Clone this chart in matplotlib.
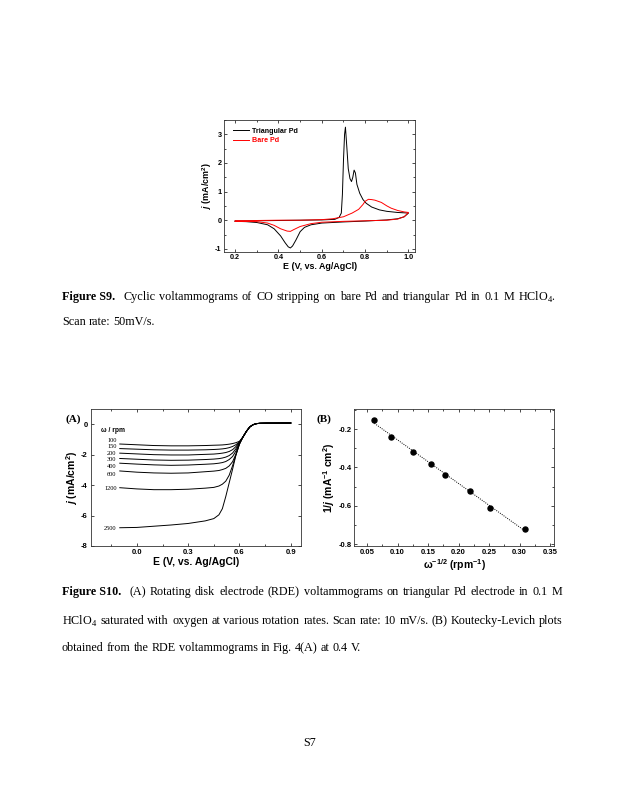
import matplotlib
matplotlib.use("Agg")
import matplotlib.pyplot as plt
import numpy as np
from matplotlib.ticker import MultipleLocator

plt.rcParams['font.family'] = ['Liberation Sans', 'DejaVu Sans']
plt.rcParams['font.weight'] = 'bold'
plt.rcParams['axes.labelweight'] = 'bold'
plt.rcParams['axes.unicode_minus'] = False
plt.rcParams['mathtext.fontset'] = 'custom'
plt.rcParams['mathtext.rm'] = 'Liberation Sans:bold'
plt.rcParams['mathtext.bf'] = 'Liberation Sans:bold'
plt.rcParams['mathtext.it'] = 'Liberation Sans:italic:bold'

# ---- Figure S9 data: CO stripping CVs ----
tri_fwd_E = [0.20, 0.30, 0.40, 0.50, 0.60, 0.66, 0.68, 0.69, 0.695, 0.700, 0.705, 0.709,
             0.715, 0.722, 0.730, 0.737, 0.743, 0.749, 0.755, 0.762, 0.775, 0.79, 0.805,
             0.83, 0.866, 0.90, 0.95, 1.00]
tri_fwd_j = [-0.03, -0.02, -0.01, 0.0, 0.01, 0.03, 0.10, 0.25, 0.9, 2.1, 3.0, 3.25,
             2.6, 1.8, 1.45, 1.35, 1.5, 1.75, 1.65, 1.25, 0.94, 0.72, 0.59,
             0.46, 0.36, 0.31, 0.27, 0.25]
tri_rev_E = [1.00, 0.98, 0.95, 0.90, 0.80, 0.70, 0.60, 0.55, 0.52, 0.50, 0.48, 0.465,
             0.455, 0.445, 0.43, 0.41, 0.38, 0.35, 0.30, 0.25, 0.20]
tri_rev_j = [0.25, 0.12, 0.05, 0.01, -0.03, -0.06, -0.10, -0.16, -0.25, -0.40, -0.70, -0.90,
             -0.97, -0.93, -0.78, -0.55, -0.30, -0.16, -0.08, -0.05, -0.04]
bare_fwd_E = [0.20, 0.30, 0.40, 0.50, 0.60, 0.65, 0.70, 0.74, 0.77, 0.79, 0.80, 0.815,
              0.83, 0.845, 0.86, 0.875, 0.90, 0.92, 0.95, 0.98, 1.00]
bare_fwd_j = [-0.03, -0.01, 0.0, 0.0, 0.02, 0.05, 0.12, 0.25, 0.38, 0.55, 0.66, 0.73,
              0.72, 0.70, 0.66, 0.62, 0.50, 0.42, 0.34, 0.29, 0.27]
bare_rev_E = [1.00, 0.98, 0.95, 0.90, 0.80, 0.70, 0.60, 0.55, 0.50, 0.47, 0.455, 0.44,
              0.41, 0.38, 0.35, 0.30, 0.25, 0.20]
bare_rev_j = [0.27, 0.12, 0.04, 0.0, -0.02, -0.04, -0.07, -0.12, -0.22, -0.33, -0.39, -0.38,
              -0.30, -0.18, -0.10, -0.05, -0.04, -0.03]

# ---- Figure S10 (A) data: RDE curves ----
rde_E = [-0.10, 0.00, 0.10, 0.20, 0.30, 0.40, 0.45, 0.48, 0.50, 0.52, 0.54, 0.56, 0.58, 0.60,
         0.62, 0.64, 0.66, 0.68, 0.70, 0.72, 0.76, 0.80, 0.90]
rde_tail = [-0.85, -0.48, -0.18, -0.03, 0.04, 0.06, 0.07, 0.07, 0.08]
rpm = [100, 150, 200, 300, 400, 600, 1200, 2500]
rde_j = {
    100: [-1.30, -1.35, -1.40, -1.42, -1.42, -1.40, -1.38, -1.37, -1.36, -1.34, -1.31, -1.27, -1.21, -1.12],
    150: [-1.60, -1.64, -1.68, -1.70, -1.70, -1.68, -1.66, -1.64, -1.62, -1.59, -1.54, -1.46, -1.34, -1.16],
    200: [-1.90, -1.95, -2.00, -2.02, -2.02, -1.98, -1.96, -1.93, -1.90, -1.86, -1.79, -1.67, -1.46, -1.19],
    300: [-2.25, -2.30, -2.35, -2.37, -2.36, -2.32, -2.29, -2.26, -2.22, -2.16, -2.06, -1.89, -1.60, -1.22],
    400: [-2.56, -2.62, -2.67, -2.70, -2.68, -2.63, -2.60, -2.56, -2.52, -2.45, -2.32, -2.12, -1.75, -1.25],
    600: [-3.07, -3.15, -3.20, -3.22, -3.20, -3.12, -3.08, -3.04, -2.98, -2.90, -2.74, -2.46, -1.95, -1.28],
    1200: [-4.17, -4.25, -4.30, -4.30, -4.27, -4.20, -4.15, -4.06, -3.94, -3.74, -3.35, -2.72, -2.00, -1.32],
    2500: [-6.80, -6.78, -6.70, -6.62, -6.52, -6.35, -6.20, -5.95, -5.55, -4.75, -3.85, -2.95, -2.00, -1.30],
}
rpm_label_j = [-1.09, -1.44, -1.92, -2.34, -2.77, -3.33, -4.24, -6.82]

# ---- Figure S10 (B) data: Koutecky-Levich ----
kl_x = [0.062, 0.089, 0.126, 0.155, 0.178, 0.219, 0.252, 0.309]
kl_y = [-0.155, -0.240, -0.319, -0.384, -0.438, -0.522, -0.612, -0.722]

W, H = 619, 800
fig = plt.figure(figsize=(6.19, 8.0), dpi=100)


def box(x0, y0, x1, y1):
    return [x0 / W, 1 - y1 / H, (x1 - x0) / W, (y1 - y0) / H]


def style(ax, size):
    ax.tick_params(which='both', direction='in', top=True, right=True,
                   width=0.5, labelsize=size, pad=2)
    ax.tick_params(which='major', length=2.0)
    ax.tick_params(which='minor', length=1.2)
    for s in ax.spines.values():
        s.set_linewidth(0.6)
        s.set_color('#333333')


# top plot
ax1 = fig.add_axes(box(224.3, 120, 415, 251.7))
ax1.plot(tri_fwd_E + tri_rev_E, tri_fwd_j + tri_rev_j, color='black', lw=0.7, label='Triangular Pd')
ax1.plot(bare_fwd_E + bare_rev_E, bare_fwd_j + bare_rev_j, color='red', lw=0.7, label='Bare Pd')
ax1.set_xlim(0.15, 1.03)
ax1.set_ylim(-1.1, 3.5)
ax1.set_xticks([0.2, 0.4, 0.6, 0.8, 1.0])
ax1.set_yticks([-1, 0, 1, 2, 3])
ax1.xaxis.set_minor_locator(MultipleLocator(0.1))
ax1.yaxis.set_minor_locator(MultipleLocator(0.5))
style(ax1, 5.2)
ax1.set_xlabel('E (V, vs. Ag/AgCl)', fontsize=6.4, labelpad=0.5)
ax1.set_ylabel('$\\it{j}$ (mA/cm$^{2}$)', fontsize=6.4, labelpad=1)
leg = ax1.legend(loc='upper left', bbox_to_anchor=(0.01, 0.99), frameon=False,
                 fontsize=5.1, handlelength=2.3, handletextpad=0.4, labelspacing=0.35,
                 labelcolor='linecolor')

# plot A
axA = fig.add_axes(box(90.7, 409, 301, 546))
for r in rpm:
    axA.plot(rde_E, rde_j[r] + rde_tail, color='black', lw=0.7)
    axA.text(-0.119, rpm_label_j[rpm.index(r)], str(r), ha='right', va='center',
             fontsize=4.6, family='Liberation Serif', weight='normal')
axA.text(-0.21, -0.38, 'ω / rpm', ha='left', va='center', fontsize=4.8)
axA.set_xlim(-0.27, 0.96)
axA.set_ylim(-8, 1)
axA.set_xticks([0.0, 0.3, 0.6, 0.9])
axA.set_yticks([-8, -6, -4, -2, 0])
axA.xaxis.set_minor_locator(MultipleLocator(0.15))
style(axA, 5.5)
axA.set_xlabel('E (V, vs. Ag/AgCl)', fontsize=7.5, labelpad=1)
axA.set_ylabel('$\\it{j}$ (mA/cm$^{2}$)', fontsize=7.5, labelpad=1)
fig.text(66 / W, 1 - 419 / H, '(A)', fontsize=8, family='Liberation Serif',
         weight='bold', va='center')

# plot B
axB = fig.add_axes(box(354.3, 409, 554.3, 546))
fit = np.polyfit(kl_x, kl_y, 1)
xf = np.array([kl_x[0], kl_x[-1]])
axB.plot(xf, np.polyval(fit, xf), color='black', lw=0.7, ls=(0, (1, 1.3)))
axB.plot(kl_x, kl_y, 'o', color='black', ms=3.6)
axB.set_xlim(0.029, 0.357)
axB.set_ylim(-0.81, -0.095)
axB.set_xticks([0.05, 0.10, 0.15, 0.20, 0.25, 0.30, 0.35])
axB.set_yticks([-0.8, -0.6, -0.4, -0.2])
axB.xaxis.set_minor_locator(MultipleLocator(0.025))
axB.yaxis.set_minor_locator(MultipleLocator(0.1))
style(axB, 5.5)
axB.set_xlabel('ω$^{-1/2}$ (rpm$^{-1}$)', fontsize=7.5, labelpad=1)
axB.set_ylabel('1/$\\it{j}$ (mA$^{-1}$ cm$^{2}$)', fontsize=7.5, labelpad=1)
fig.text(316.7 / W, 1 - 419 / H, '(B)', fontsize=8, family='Liberation Serif',
         weight='bold', va='center')

# captions
CAP = 8.7
renderer = fig.canvas.get_renderer()


def line(words, y, x0=62, x1=None, second=None):
    # words: list of (text, weight); second: x where the second word starts
    objs = [fig.text(0, 1 - y / H, w, fontsize=CAP, family='Liberation Serif',
                     weight=wt, va='center') for w, wt in words]
    widths = [o.get_window_extent(renderer).width for o in objs]
    space = 0.25 * CAP * 100 / 72
    xs = [x0]
    start = 1
    if second is not None:
        xs.append(second)
        start = 2
    n = len(objs) - start
    if x1 is None:
        gap = space
    else:
        gap = ((x1 - xs[-1]) - sum(widths[start - 1:])) / n
    for i in range(start, len(objs)):
        xs.append(xs[-1] + widths[i - 1] + gap)
    for o, x in zip(objs, xs):
        o.set_x(x / W)


def words(s):
    return [(w, 'normal') for w in s.split()]


line([('Figure S9.', 'bold')] +
     words('Cyclic voltammograms of CO stripping on bare Pd and triangular Pd in 0.1 M') +
     [('HClO$_\\mathregular{4}$.', 'normal')], 297, x1=556, second=123)
line(words('Scan rate: 50mV/s.'), 322)
line([('Figure S10.', 'bold')] +
     words('(A) Rotating disk electrode (RDE) voltammograms on triangular Pd electrode in 0.1 M'),
     592, x1=562, second=129)
line([('HClO$_\\mathregular{4}$', 'normal')] +
     words('saturated with oxygen at various rotation rates. Scan rate: 10 mV/s. (B) Koutecky-Levich plots'),
     621, x1=563)
line(words('obtained from the RDE voltammograms in Fig. 4(A) at 0.4 V.'), 648)
fig.text(310 / W, 1 - 743 / H, 'S7', fontsize=CAP, family='Liberation Serif',
         weight='normal', ha='center', va='center')

fig.savefig('out.png', dpi=100)
